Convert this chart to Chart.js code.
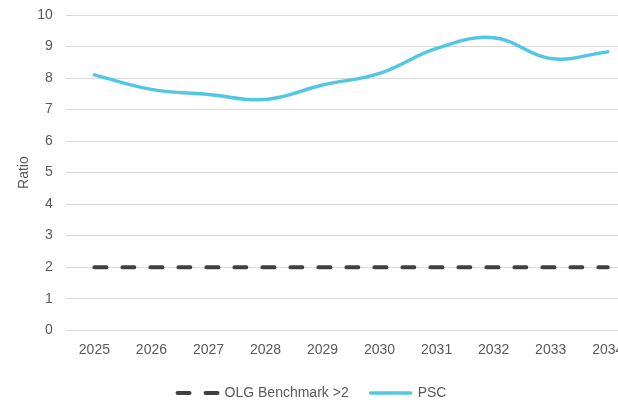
<!DOCTYPE html>
<html lang="en">
<head>
    <meta charset="UTF-8">
    <title>Ratio vs OLG Benchmark</title>
    <script src="https://cdn.jsdelivr.net/npm/chart.js"></script>
    <style>
        body { margin: 0; overflow: hidden; background: #fff; }
        #wrap { width: 618px; height: 410px; }
    </style>
</head>
<body>
<div id="wrap"><canvas id="ratioChart" width="618" height="410"></canvas></div>

<script>
    const years = [2025, 2026, 2027, 2028, 2029, 2030, 2031, 2032, 2033, 2034];
    const psc = [8.1, 7.64, 7.48, 7.32, 7.78, 8.15, 8.94, 9.28, 8.62, 8.83];
    const benchmark = [2, 2, 2, 2, 2, 2, 2, 2, 2, 2];
    const yTicks = [0, 1, 2, 3, 4, 5, 6, 7, 8, 9, 10];

    const textColor = '#595959';
    const font = { family: '"Liberation Sans", Arial, sans-serif', size: 14 };

    function toPoints(values) {
        return years.map((yr, i) => ({ x: yr, y: values[i] }));
    }

    // legend items with usePointStyle lose the dataset dash, put it back
    function legendLabels(chart) {
        return Chart.defaults.plugins.legend.labels.generateLabels(chart).map((item, i) => {
            const ds = chart.data.datasets[i];
            item.lineDash = ds.borderDash || [];
            item.lineWidth = ds.borderWidth;
            item.strokeStyle = ds.borderColor;
            item.lineCap = ds.borderCapStyle;
            return item;
        });
    }

    const ctx = document.getElementById('ratioChart').getContext('2d');
    new Chart(ctx, {
        type: 'line',
        data: {
            datasets: [{
                label: 'OLG Benchmark >2',
                data: toPoints(benchmark),
                borderColor: '#404040',
                backgroundColor: '#404040',
                borderWidth: 4,
                borderDash: [12, 16],
                borderCapStyle: 'round',
                pointRadius: 0,
                tension: 0
            }, {
                label: 'PSC',
                data: toPoints(psc),
                borderColor: '#52C7E1',
                backgroundColor: '#52C7E1',
                borderWidth: 3.5,
                borderCapStyle: 'round',
                pointRadius: 0,
                tension: 0.4
            }]
        },
        options: {
            responsive: false,
            animation: false,
            devicePixelRatio: 1,
            layout: { padding: { left: 6, top: 15, right: 0, bottom: 0 } },
            plugins: {
                tooltip: { enabled: false },
                legend: {
                    position: 'bottom',
                    labels: {
                        usePointStyle: true,
                        pointStyle: 'line',
                        pointStyleWidth: 40,
                        boxWidth: 40,
                        padding: 22,
                        color: textColor,
                        font: font,
                        generateLabels: legendLabels
                    }
                }
            },
            scales: {
                x: {
                    type: 'linear',
                    min: 2024.5,
                    max: 2034.18,
                    grid: { display: false, drawTicks: true, tickLength: 12 },
                    border: { display: false },
                    title: { display: true, text: '', font: { size: 1, lineHeight: 1 }, padding: { top: 0, bottom: 4 } },
                    ticks: {
                        autoSkip: false,
                        maxRotation: 0,
                        padding: 0,
                        color: textColor,
                        font: font,
                        callback: v => String(v)
                    },
                    afterBuildTicks: scale => {
                        scale.ticks = years.map(yr => ({ value: yr }));
                    },
                    afterFit: scale => {
                        scale.paddingLeft = 0;
                        scale.paddingRight = 0;
                    }
                },
                y: {
                    min: 0,
                    max: 10,
                    grid: {
                        color: '#d9d9d9',
                        lineWidth: 1,
                        drawTicks: true,
                        tickLength: 13,
                        tickColor: 'rgba(0,0,0,0)'
                    },
                    border: { display: false },
                    title: {
                        display: true,
                        text: 'Ratio',
                        color: textColor,
                        font: font,
                        padding: { top: 10, bottom: 4.5 }
                    },
                    ticks: {
                        padding: 0,
                        color: textColor,
                        font: font
                    },
                    afterBuildTicks: scale => {
                        scale.ticks = yTicks.map(v => ({ value: v }));
                    }
                }
            }
        }
    });
</script>
</body>
</html>
